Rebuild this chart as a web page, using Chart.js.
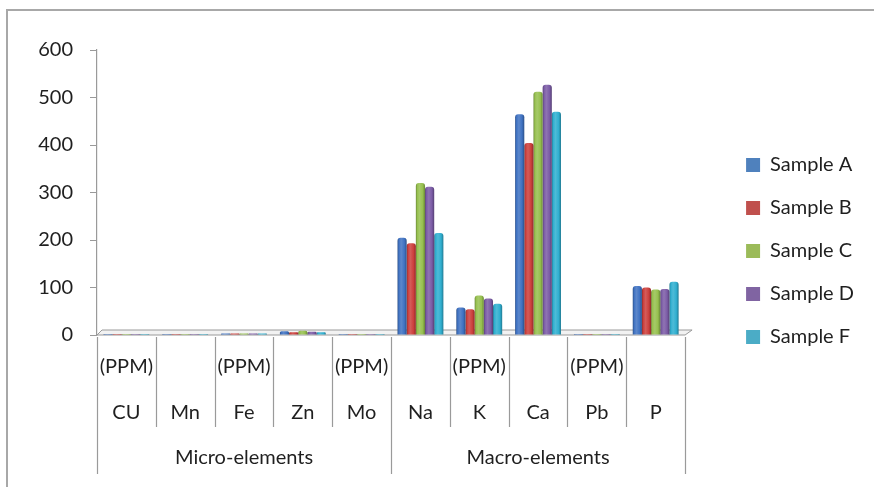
<!DOCTYPE html>
<html>
<head>
<meta charset="utf-8">
<script src="https://cdn.jsdelivr.net/npm/chart.js@4.4.1/dist/chart.umd.min.js"></script>
<style>
  html, body { margin: 0; padding: 0; background: #fff; }
  #wrap { width: 874px; height: 487px; }
</style>
</head>
<body>
<div id="wrap"><canvas id="chart" width="874" height="487"></canvas></div>
<script>
const elements = ["CU", "Mn", "Fe", "Zn", "Mo", "Na", "K", "Ca", "Pb", "P"];
const unitRow = ["(PPM)", "", "(PPM)", "", "(PPM)", "", "(PPM)", "", "(PPM)", ""];
const groups = ["Micro-elements", "Macro-elements"];
const seriesNames = ["Sample A", "Sample B", "Sample C", "Sample D", "Sample F"];

const sampleA = [2, 2, 3, 8, 2, 205, 58, 465, 2, 103];
const sampleB = [2, 2, 3, 6, 2, 193, 54, 404, 2, 100];
const sampleC = [2, 2, 3, 9, 2, 320, 83, 512, 2, 96];
const sampleD = [2, 2, 3, 7, 2, 312, 77, 527, 2, 97];
const sampleF = [2, 2, 3, 6, 2, 215, 66, 470, 2, 112];
const seriesValues = [sampleA, sampleB, sampleC, sampleD, sampleF];

const yTicks = [0, 100, 200, 300, 400, 500, 600];
const legendColors = ["#4f81bd", "#c0504d", "#9bbb59", "#8064a2", "#4bacc6"];
const barColors = ["#3f72c2", "#cc3f3c", "#96c04e", "#7b5ba6", "#2fafd0"];

const FONT = "Lato, 'Open Sans', sans-serif";
const TEXT = "#1f1f1f";
const LINE = "#9a9a9a";
const CAT_PCT = 0.78;

// lighten (f > 0) or darken (f < 0) a hex colour
function shade(hex, f) {
  const n = parseInt(hex.slice(1), 16);
  let rgb = [n >> 16, (n >> 8) & 255, n & 255];
  rgb = rgb.map(c => (f >= 0 ? c + (255 - c) * f : c * (1 + f)));
  return `rgb(${rgb.map(Math.round).join(",")})`;
}

// cylinder-like shading across each bar
function barFill(context) {
  const base = barColors[context.datasetIndex];
  if (context.type !== "data") return base;
  const chart = context.chart;
  const x = chart.scales.x;
  if (!x || !x.width) return base;
  const catW = x.width / elements.length;
  const groupW = catW * CAT_PCT;
  const barW = groupW / seriesNames.length;
  const left = x.getPixelForValue(context.dataIndex) - groupW / 2 + context.datasetIndex * barW;
  const g = chart.ctx.createLinearGradient(left, 0, left + barW, 0);
  g.addColorStop(0, shade(base, -0.3));
  g.addColorStop(0.15, base);
  g.addColorStop(0.4, shade(base, 0.15));
  g.addColorStop(0.75, base);
  g.addColorStop(1, shade(base, -0.3));
  return g;
}

const frame = {
  id: "frame",
  beforeDraw(chart) {
    const c = chart.ctx;
    c.save();
    c.fillStyle = "#fff";
    c.fillRect(0, 0, chart.width, chart.height);
    c.restore();
  },
  beforeDatasetsDraw(chart) {
    // thin 3D floor under the bars
    const c = chart.ctx;
    const x = chart.scales.x;
    const y0 = chart.scales.y.getPixelForValue(0);
    c.save();
    c.beginPath();
    c.moveTo(x.left, y0);
    c.lineTo(x.right, y0);
    c.lineTo(x.right + 7, y0 - 5);
    c.lineTo(x.left + 5, y0 - 5);
    c.closePath();
    c.fillStyle = "#f2f2f2";
    c.fill();
    c.strokeStyle = LINE;
    c.lineWidth = 1;
    c.stroke();
    c.restore();
  },
  afterDraw(chart) {
    const c = chart.ctx;
    const x = chart.scales.x;
    const top = x.top + 2;
    c.save();
    c.strokeStyle = LINE;
    c.lineWidth = 1.2;
    for (let i = 0; i <= elements.length; i++) {
      let px;
      if (i === 0) px = x.left;
      else if (i === elements.length) px = x.right;
      else px = (x.getPixelForValue(i - 1) + x.getPixelForValue(i)) / 2;
      const isGroupEdge = i % 5 === 0;
      c.beginPath();
      c.moveTo(Math.round(px) + 0.5, top);
      c.lineTo(Math.round(px) + 0.5, isGroupEdge ? 474 : 427);
      c.stroke();
    }
    // outer chart border
    c.strokeStyle = "#a8a8a8";
    c.lineWidth = 2;
    c.strokeRect(7, 10, 900, 520);
    c.restore();
  }
};

const datasets = seriesNames.map((name, i) => ({
  label: name,
  data: seriesValues[i],
  xAxisID: "x",
  yAxisID: "y",
  backgroundColor: barFill,
  borderWidth: 0,
  borderRadius: { topLeft: 3, topRight: 3 },
  borderSkipped: "bottom",
  barPercentage: 1.0,
  categoryPercentage: CAT_PCT
}));

new Chart(document.getElementById("chart"), {
  type: "bar",
  data: {
    labels: elements.map((e, i) => [unitRow[i], e]),
    datasets: datasets
  },
  plugins: [frame],
  options: {
    responsive: false,
    animation: false,
    events: [],
    layout: { padding: { top: 27, left: 0, right: 10, bottom: 12 } },
    plugins: {
      legend: {
        position: "right",
        labels: {
          boxWidth: 14,
          boxHeight: 14,
          padding: 23,
          color: TEXT,
          font: { family: FONT, size: 20 },
          generateLabels: chart =>
            Chart.defaults.plugins.legend.labels.generateLabels(chart).map(l => ({
              ...l,
              fillStyle: legendColors[l.datasetIndex],
              strokeStyle: legendColors[l.datasetIndex],
              lineWidth: 0
            }))
        }
      },
      tooltip: { enabled: false }
    },
    scales: {
      x: {
        type: "category",
        offset: true,
        weight: 0,
        grid: { display: false, drawTicks: false },
        border: { display: false },
        ticks: {
          color: TEXT,
          font: { family: FONT, size: 20, lineHeight: 2.3 },
          padding: 9,
          maxRotation: 0,
          autoSkip: false
        },
        afterFit: s => { s.height = 110; }
      },
      x2: {
        type: "category",
        labels: groups,
        position: "bottom",
        offset: true,
        weight: 1,
        grid: { display: false, drawTicks: false },
        border: { display: false },
        ticks: {
          color: TEXT,
          font: { family: FONT, size: 20, lineHeight: 1.2 },
          padding: 1,
          maxRotation: 0
        },
        afterFit: s => { s.height = 30; }
      },
      y: {
        min: yTicks[0],
        max: yTicks[yTicks.length - 1],
        afterBuildTicks: s => { s.ticks = yTicks.map(v => ({ value: v })); },
        grid: { drawOnChartArea: false, drawTicks: true, tickLength: 7, color: LINE },
        border: { display: true, color: LINE, width: 1.2 },
        ticks: {
          color: TEXT,
          font: { family: FONT, size: 20 },
          padding: 17
        },
        afterFit: s => { s.width = 97; }
      },
      gap: {
        type: "linear",
        position: "right",
        display: true,
        grid: { display: false, drawTicks: false },
        border: { display: false },
        ticks: { display: false },
        afterFit: s => { s.width = 38; }
      },
      topPad: {
        type: "linear",
        position: "top",
        display: true,
        grid: { display: false, drawTicks: false },
        border: { display: false },
        ticks: { display: false },
        afterFit: s => { s.height = 23; }
      }
    }
  }
});
</script>
</body>
</html>
